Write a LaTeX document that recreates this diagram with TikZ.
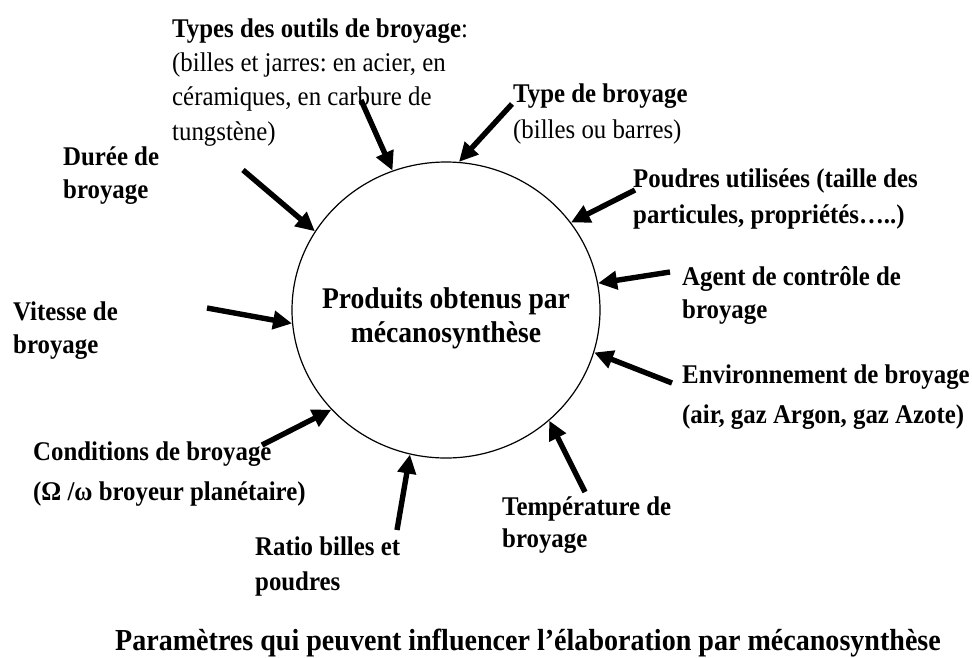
\documentclass[tikz,border=0pt]{standalone}
\usepackage{fontspec}
\setmainfont{Liberation Serif}[FakeStretch=0.92]
\usetikzlibrary{arrows.meta,shapes.geometric}
\frenchspacing
\tikzset{
  lab/.style={anchor=base west, align=left, inner sep=0pt, font=\fontsize{27}{#1}\selectfont\bfseries},
  lab/.default=34,
  arr/.style={line width=5.4pt, -{Triangle[length=19pt,width=18pt]}},
}
\begin{document}
\begin{tikzpicture}[x=1pt,y=-1pt]
\useasboundingbox (0,0) rectangle (972,657);
\node[draw, line width=1.2pt, ellipse, minimum width=308pt, minimum height=296pt, inner sep=0pt] (C) at (446,310) {};
\node[align=center, inner sep=0pt, anchor=base, font=\fontsize{30}{34}\selectfont\bfseries] (ctr) at (446,342) {Produits obtenus par\\mécanosynthèse};

\node[lab=34.3] (outils) at (172,140) {Types des outils de broyage\mdseries:\\\mdseries (billes et jarres: en acier, en\\\mdseries céramiques, en carbure de\\\mdseries tungstène)};
\node[lab=36] (typeb) at (513,138) {Type de broyage\\\mdseries (billes ou barres)};
\node[lab=36] (poudres) at (633,223) {Poudres utilisées (taille des\\particules, propriétés…..)};
\node[lab=33] (agent) at (682,318) {Agent de contrôle de\\broyage};
\node[lab=40] (env) at (682,423) {Environnement de broyage\\(air, gaz Argon, gaz Azote)};
\node[lab=32] (temp) at (502,547) {Température de\\broyage};
\node[lab=35] (ratio) at (255,590) {Ratio billes et\\poudres};
\node[lab=40] (cond) at (33,500) {Conditions de broyage\\(Ω /ω broyeur planétaire)};
\node[lab=33] (vit) at (13,353) {Vitesse de\\broyage};
\node[lab=33] (duree) at (63,198) {Durée de\\broyage};

\node[anchor=base west, inner sep=0pt, font=\fontsize{30.5}{36}\selectfont\bfseries] (cap) at (115,650) {Paramètres qui peuvent influencer l’élaboration par mécanosynthèse};

\coordinate (t1) at (361,100);
\coordinate (t2) at (512,104);
\coordinate (t3) at (635,190);
\coordinate (t4) at (670,272);
\coordinate (t5) at (672,383);
\coordinate (t6) at (585,492);
\coordinate (t7) at (397,530);
\coordinate (t8) at (262,445);
\coordinate (t9) at (207,308);
\coordinate (t10) at (243,170);

\draw[arr] (t1) -- (C.111.4);
\draw[arr] (t2) -- (C.85);
\draw[arr] (t3) -- (C.35);
\draw[arr] (t4) -- (C.10);
\draw[arr] (t5) -- (C.-16.3);
\draw[arr] (t6) -- (C.-47);
\draw[arr] (t7) -- (C.-104);
\draw[arr] (t8) -- (C.-139.7);
\draw[arr] (t9) -- (C.185.6);
\draw[arr] (t10) -- (C.149.6);
\end{tikzpicture}
\end{document}
